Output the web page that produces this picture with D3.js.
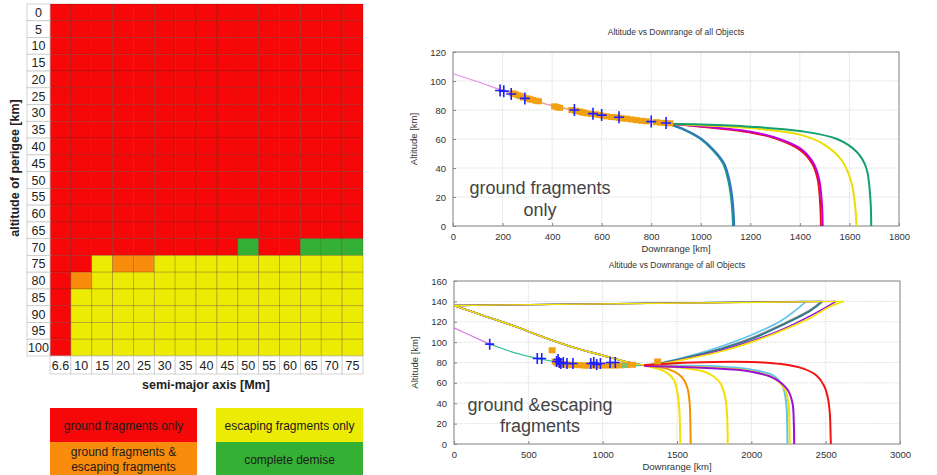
<!DOCTYPE html>
<html>
<head>
<meta charset="utf-8">
<script src="https://cdn.jsdelivr.net/npm/d3@7"></script>
<style>
  body { margin: 0; background: #fff; }
  svg { font-family: "Liberation Sans", Arial, sans-serif; }
</style>
</head>
<body>
<div id="chart"></div>
<script>
const width = 937, height = 475;

// ---- left: outcome map ----
const perigeeRows = [0, 5, 10, 15, 20, 25, 30, 35, 40, 45, 50, 55, 60, 65, 70, 75, 80, 85, 90, 95, 100];
const smaCols = ["6.6", "10", "15", "20", "25", "30", "35", "40", "45", "50", "55", "60", "65", "70", "75"];
// R = ground only, O = ground & escaping, Y = escaping only, G = complete demise
const outcomeRows = [
  "RRRRRRRRRRRRRRR", "RRRRRRRRRRRRRRR", "RRRRRRRRRRRRRRR", "RRRRRRRRRRRRRRR",
  "RRRRRRRRRRRRRRR", "RRRRRRRRRRRRRRR", "RRRRRRRRRRRRRRR", "RRRRRRRRRRRRRRR",
  "RRRRRRRRRRRRRRR", "RRRRRRRRRRRRRRR", "RRRRRRRRRRRRRRR", "RRRRRRRRRRRRRRR",
  "RRRRRRRRRRRRRRR", "RRRRRRRRRRRRRRR",
  "RRRRRRRRRGRRGGG",
  "RRYOOYYYYYYYYYY",
  "ROYYYYYYYYYYYYY",
  "RYYYYYYYYYYYYYY", "RYYYYYYYYYYYYYY", "RYYYYYYYYYYYYYY", "RYYYYYYYYYYYYYY"
];
const outcomeColors = { R: "#f60808", O: "#f98c0c", Y: "#ebeb04", G: "#34b134" };
const legendItems = [
  { code: "R", lines: ["ground fragments only"] },
  { code: "O", lines: ["ground fragments &", "escaping fragments"] },
  { code: "Y", lines: ["escaping fragments only"] },
  { code: "G", lines: ["complete demise"] }
];

// ---- top right: ground fragments only ----
const topMain = [[0, 105], [100, 99.5], [200, 93.5], [300, 88], [400, 83], [500, 79.5], [600, 76.5], [700, 74], [800, 72], [870, 70.5]];
const topBranches = [
  { color: "#1d9a86", pts: [[870, 70.5], [930, 66.5], [995, 60.5], [1050, 52], [1090, 43], [1110, 32], [1122, 20], [1128, 8], [1130, 0]] },
  { color: "#2f78c0", pts: [[870, 70.5], [935, 66.5], [1000, 60.5], [1055, 52], [1095, 43], [1115, 32], [1127, 20], [1133, 8], [1135, 0]] },
  { color: "#ee1111", pts: [[870, 70.5], [1000, 68.5], [1200, 64.5], [1300, 60.5], [1400, 52.5], [1450, 43], [1472, 32], [1482, 15], [1485, 0]] },
  { color: "#c000d8", pts: [[870, 70.5], [1000, 68.8], [1200, 65], [1300, 61], [1405, 53], [1456, 43], [1478, 32], [1489, 15], [1492, 0]] },
  { color: "#eadf00", pts: [[870, 70.5], [1000, 69.5], [1200, 67.5], [1400, 63], [1500, 56], [1570, 45], [1608, 30], [1624, 12], [1628, 0]] },
  { color: "#13a070", pts: [[870, 70.5], [1000, 70], [1200, 68.5], [1400, 65.5], [1550, 60], [1630, 51], [1668, 40], [1684, 20], [1688, 0]] }
];
const topCrosses = [[190, 93.5], [205, 93], [235, 91], [290, 88], [490, 80], [565, 77.5], [600, 76.5], [670, 75], [800, 72], [860, 71]];
const topSquares = [[240, 91.5], [250, 91], [262, 90.2], [272, 89.5], [285, 88.6], [300, 88], [310, 87.4], [320, 87], [335, 86.4], [345, 86],
  [410, 82.5], [420, 82], [430, 81.5], [480, 80], [495, 79.5], [510, 79], [520, 78.5], [530, 78], [545, 77.6], [560, 77.2], [575, 77],
  [590, 76.6], [605, 76], [620, 75.6], [640, 75.2], [655, 75], [670, 74.6], [685, 74.2], [700, 74], [720, 73.5], [740, 73], [760, 72.6],
  [780, 72.2], [820, 71.6], [840, 71.2], [860, 71], [875, 70.8]];

// ---- bottom right: ground & escaping fragments ----
const botMainPink = [[0, 114], [120, 106], [240, 98]];
const botMainTeal = [[240, 98], [400, 90], [560, 84], [700, 80.5], [900, 78.5], [1100, 77.5], [1250, 77]];
const escapeDescent = [[0, 136], [200, 126], [400, 116], [600, 105], [800, 95], [1000, 87], [1150, 81], [1280, 77.5]];
const escapeAscents = [
  { color: "#60c4ee", pts: [[1400, 80], [1600, 87], [1800, 96], [2000, 107], [2200, 121], [2370, 140]] },
  { color: "#8a8a8a", pts: [[1400, 79.5], [1600, 86], [1800, 94], [2000, 104], [2200, 117], [2400, 132], [2470, 140]] },
  { color: "#2b7a8c", pts: [[1400, 79.5], [1600, 86], [1800, 93.5], [2000, 103], [2200, 116], [2400, 131], [2480, 140]] },
  { color: "#9a10d8", pts: [[1400, 79], [1600, 85], [1800, 92], [2000, 101], [2200, 112], [2400, 126], [2570, 140]] },
  { color: "#f0e400", pts: [[1400, 79], [1600, 84.5], [1800, 91], [2000, 100], [2200, 111], [2400, 124], [2530, 135], [2620, 140]] }
];
const groundBranches = [
  { color: "#f4e000", pts: [[1280, 77], [1420, 71], [1478, 63], [1503, 50], [1515, 35], [1520, 15], [1522, 0]] },
  { color: "#f39200", pts: [[1280, 77], [1450, 73], [1530, 66], [1570, 55], [1585, 40], [1590, 20], [1592, 0]] },
  { color: "#f4e000", pts: [[1280, 77], [1550, 74.5], [1700, 70], [1790, 60], [1825, 45], [1838, 25], [1841, 0]] },
  { color: "#60c4ee", pts: [[1280, 77], [1700, 76.5], [2000, 73], [2150, 67], [2210, 57], [2235, 40], [2241, 20], [2243, 0]] },
  { color: "#f4e000", pts: [[1280, 76.5], [1700, 75], [2000, 71.5], [2160, 64], [2225, 54], [2250, 40], [2256, 20], [2258, 0]] },
  { color: "#9a10d8", pts: [[1280, 76.5], [1700, 74.5], [2000, 71], [2160, 64], [2245, 53], [2277, 40], [2286, 20], [2288, 0]] },
  { color: "#f01414", pts: [[1280, 77.5], [1600, 80], [2000, 80.5], [2200, 78.5], [2350, 74], [2440, 67], [2490, 57], [2515, 45], [2528, 30], [2533, 10], [2535, 0]] }
];
const botCrosses = [[240, 98], [560, 84], [590, 84], [690, 81], [700, 83], [708, 80], [718, 79], [735, 80], [760, 79], [800, 79],
  [920, 79], [940, 80], [960, 78], [985, 79], [1050, 80], [1085, 80]];
const botSquares = [[660, 92], [680, 81], [690, 80], [700, 79], [710, 79], [720, 78.5], [740, 78], [760, 78], [780, 77.8], [800, 77.5],
  [820, 77.5], [850, 77.3], [880, 77], [900, 77], [930, 77], [960, 77], [1000, 77], [1040, 77], [1080, 77], [1120, 77.2],
  [1160, 77.5], [1200, 77.8], [1370, 81]];

const svg = d3.select("#chart").append("svg")
  .attr("width", width)
  .attr("height", height);

// ===== left grid =====
const gx = d3.scaleBand().domain(smaCols).range([50, 363]);
const gy = d3.scaleBand().domain(perigeeRows).range([4, 356]);
const grid = svg.append("g");

outcomeRows.forEach((row, i) => {
  row.split("").forEach((code, j) => {
    grid.append("rect")
      .attr("x", gx(smaCols[j]))
      .attr("y", gy(perigeeRows[i]))
      .attr("width", gx.bandwidth())
      .attr("height", gy.bandwidth())
      .attr("fill", outcomeColors[code])
      .attr("stroke", "rgba(60,20,0,0.28)")
      .attr("stroke-width", 0.8);
  });
});

// row labels
perigeeRows.forEach((r) => {
  grid.append("rect")
    .attr("x", 27).attr("y", gy(r))
    .attr("width", 23).attr("height", gy.bandwidth())
    .attr("fill", "#fff").attr("stroke", "#c8c8c8").attr("stroke-width", 0.8);
  grid.append("text")
    .attr("x", 38.5).attr("y", gy(r) + gy.bandwidth() / 2 + 4.5)
    .attr("text-anchor", "middle")
    .attr("font-size", 12.5).attr("fill", "#222")
    .text(r);
});
// column labels
smaCols.forEach((c) => {
  grid.append("rect")
    .attr("x", gx(c)).attr("y", 356)
    .attr("width", gx.bandwidth()).attr("height", 18)
    .attr("fill", "#fff").attr("stroke", "#c8c8c8").attr("stroke-width", 0.8);
  grid.append("text")
    .attr("x", gx(c) + gx.bandwidth() / 2).attr("y", 370)
    .attr("text-anchor", "middle")
    .attr("font-size", 12.5).attr("fill", "#222")
    .text(c);
});

grid.append("text")
  .attr("x", 206).attr("y", 389)
  .attr("text-anchor", "middle")
  .attr("font-size", 12.5).attr("font-weight", "bold").attr("fill", "#222")
  .text("semi-major axis [Mm]");
grid.append("text")
  .attr("transform", "translate(19,168) rotate(-90)")
  .attr("text-anchor", "middle")
  .attr("font-size", 12.5).attr("font-weight", "bold").attr("fill", "#222")
  .text("altitude of perigee [km]");

// legend
const legendPos = [[50, 408], [50, 442], [216, 408], [216, 442]];
legendItems.forEach((item, i) => {
  const [lx, ly] = legendPos[i];
  grid.append("rect")
    .attr("x", lx).attr("y", ly)
    .attr("width", 147).attr("height", 34)
    .attr("fill", outcomeColors[item.code]);
  const t = grid.append("text")
    .attr("text-anchor", "middle")
    .attr("font-size", 12).attr("fill", "#1a1a1a");
  item.lines.forEach((ln, k) => {
    const n = item.lines.length;
    t.append("tspan")
      .attr("x", lx + 73.5)
      .attr("y", ly + 21.5 + (k - (n - 1) / 2) * 15)
      .text(ln);
  });
});

// ===== trajectory charts =====
const line = d3.line()
  .x((d) => d[0]).y((d) => d[1])
  .curve(d3.curveCatmullRom.alpha(0.5));

function drawFrame(g, x, y, xTicks, yTicks, title, titleY) {
  const [x0, x1] = x.range();
  const [y0, y1] = y.range();
  g.append("g")
    .selectAll("line.gx").data(xTicks).join("line")
    .attr("x1", (d) => x(d)).attr("x2", (d) => x(d))
    .attr("y1", y1).attr("y2", y0)
    .attr("stroke", "#dedede").attr("stroke-dasharray", "1.5,1");
  g.append("g")
    .selectAll("line.gy").data(yTicks).join("line")
    .attr("x1", x0).attr("x2", x1)
    .attr("y1", (d) => y(d)).attr("y2", (d) => y(d))
    .attr("stroke", "#dedede").attr("stroke-dasharray", "1.5,1");
  g.append("rect")
    .attr("x", x0).attr("y", y1)
    .attr("width", x1 - x0).attr("height", y0 - y1)
    .attr("fill", "none").attr("stroke", "#888").attr("stroke-width", 1);

  const xa = g.append("g")
    .attr("transform", `translate(0,${y0})`)
    .call(d3.axisBottom(x).tickValues(xTicks).tickFormat(d3.format("d")).tickSize(-3).tickPadding(7));
  const ya = g.append("g")
    .attr("transform", `translate(${x0},0)`)
    .call(d3.axisLeft(y).tickValues(yTicks).tickFormat(d3.format("d")).tickSize(-3).tickPadding(7));
  [xa, ya].forEach((a) => {
    a.select(".domain").remove();
    a.selectAll("line").attr("stroke", "#888");
    a.selectAll("text").attr("font-size", 9.5).attr("fill", "#333")
      .attr("font-family", "'Liberation Sans', Arial, sans-serif");
  });

  g.append("text")
    .attr("x", (x0 + x1) / 2).attr("y", y0 + 26)
    .attr("text-anchor", "middle").attr("font-size", 9.5).attr("fill", "#333")
    .text("Downrange [km]");
  g.append("text")
    .attr("transform", `translate(${x0 - 36},${(y0 + y1) / 2}) rotate(-90)`)
    .attr("text-anchor", "middle").attr("font-size", 9.5).attr("fill", "#333")
    .text("Altitude [km]");
  g.append("text")
    .attr("x", (x0 + x1) / 2).attr("y", titleY)
    .attr("text-anchor", "middle").attr("font-size", 8.5).attr("fill", "#333")
    .text(title);
}

function drawPath(g, x, y, pts, color, w) {
  g.append("path")
    .attr("d", line(pts.map((p) => [x(p[0]), y(p[1])])))
    .attr("fill", "none").attr("stroke", color).attr("stroke-width", w);
}

function drawMarkers(g, x, y, squares, crosses, cs) {
  g.append("g").selectAll("rect").data(squares).join("rect")
    .attr("x", (d) => x(d[0]) - 3.5).attr("y", (d) => y(d[1]) - 3)
    .attr("width", 7).attr("height", 6)
    .attr("fill", "#f0a010");
  g.append("g").selectAll("path").data(crosses).join("path")
    .attr("d", (d) => `M${x(d[0]) - cs},${y(d[1])}H${x(d[0]) + cs}M${x(d[0])},${y(d[1]) - cs - 1}V${y(d[1]) + cs + 1}`)
    .attr("stroke", "#1f1fff").attr("stroke-width", 1.6);
}

// top chart
const tx = d3.scaleLinear().domain([0, 1800]).range([453, 899]);
const ty = d3.scaleLinear().domain([0, 120]).range([226, 52]);
const topChart = svg.append("g");
drawFrame(topChart, tx, ty, d3.range(0, 1801, 200), d3.range(0, 121, 20), "Altitude vs Downrange of all Objects", 35);
drawPath(topChart, tx, ty, topMain, "#e58ee8", 1.2);
drawPath(topChart, tx, ty, topMain.slice(2), "#f2a37a", 1.2);
topBranches.forEach((b) => drawPath(topChart, tx, ty, b.pts, b.color, 2));
drawMarkers(topChart, tx, ty, topSquares, topCrosses, 5);

topChart.append("text")
  .attr("x", 540).attr("y", 194)
  .attr("text-anchor", "middle").attr("font-size", 18).attr("fill", "#444")
  .text("ground fragments");
topChart.append("text")
  .attr("x", 540).attr("y", 216)
  .attr("text-anchor", "middle").attr("font-size", 18).attr("fill", "#444")
  .text("only");

// bottom chart
const bx = d3.scaleLinear().domain([0, 3000]).range([454, 900]);
const by = d3.scaleLinear().domain([0, 160]).range([444, 281]);
const botChart = svg.append("g");
drawFrame(botChart, bx, by, d3.range(0, 3001, 500), d3.range(0, 161, 20), "Altitude vs Downrange of all Objects", 268);

escapeAscents.forEach((e) => {
  const pts = escapeDescent.concat(e.pts);
  drawPath(botChart, bx, by, pts, e.color, 1.6);
  const end = e.pts[e.pts.length - 1];
  botChart.append("line")
    .attr("x1", bx(end[0])).attr("y1", by(end[1]))
    .attr("x2", bx(escapeDescent[0][0])).attr("y2", by(escapeDescent[0][1]))
    .attr("stroke", e.color).attr("stroke-width", 1.4);
});
drawPath(botChart, bx, by, botMainPink, "#d77be0", 1.2);
drawPath(botChart, bx, by, botMainTeal, "#3cc0a0", 1.2);
groundBranches.forEach((b) => drawPath(botChart, bx, by, b.pts, b.color, 2));
drawMarkers(botChart, bx, by, botSquares, botCrosses, 4.5);
botChart.append("rect")
  .attr("x", bx(1150) - 3).attr("y", by(77) - 2.5)
  .attr("width", 6).attr("height", 5).attr("fill", "#7cc070");

botChart.append("text")
  .attr("x", 540).attr("y", 411)
  .attr("text-anchor", "middle").attr("font-size", 18).attr("fill", "#444")
  .text("ground &escaping");
botChart.append("text")
  .attr("x", 540).attr("y", 432)
  .attr("text-anchor", "middle").attr("font-size", 18).attr("fill", "#444")
  .text("fragments");
</script>
</body>
</html>
